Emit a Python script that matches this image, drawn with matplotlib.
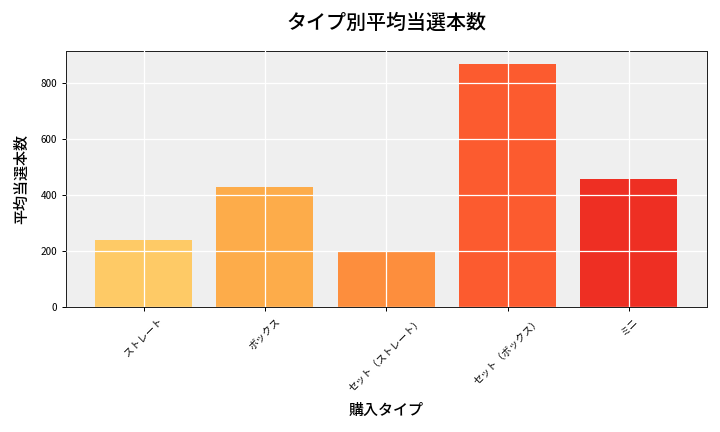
import matplotlib
matplotlib.use("Agg")
import matplotlib.pyplot as plt

plt.rcParams['font.family'] = ['Noto Sans CJK JP', 'DejaVu Sans']

categories = ["ストレート", "ボックス", "セット（ストレート）", "セット（ボックス）", "ミニ"]
values = [241, 428, 198, 870, 457]
colors = ["#FECA66", "#FDAC4A", "#FD8E3D", "#FC5B2F", "#EE2F23"]

fig, ax = plt.subplots(figsize=(8, 4.8), dpi=90)
ax.set_facecolor("#EFEFEF")
ax.bar(categories, values, color=colors, zorder=2)
ax.grid(True, color="white", linewidth=1, zorder=3)
ax.set_axisbelow(False)
for s in ax.spines.values():
    s.set_color("#222222")
ax.set_title("タイプ別平均当選本数", fontsize=16, fontweight="medium", pad=18)
ax.set_xlabel("購入タイプ", fontsize=12, fontweight="medium", labelpad=6)
ax.set_ylabel("平均当選本数", fontsize=12, fontweight="medium", labelpad=8)
plt.setp(ax.get_xticklabels(), rotation=45)
ax.tick_params(labelsize=8)
fig.tight_layout()
fig.savefig("out.png", dpi=90)
